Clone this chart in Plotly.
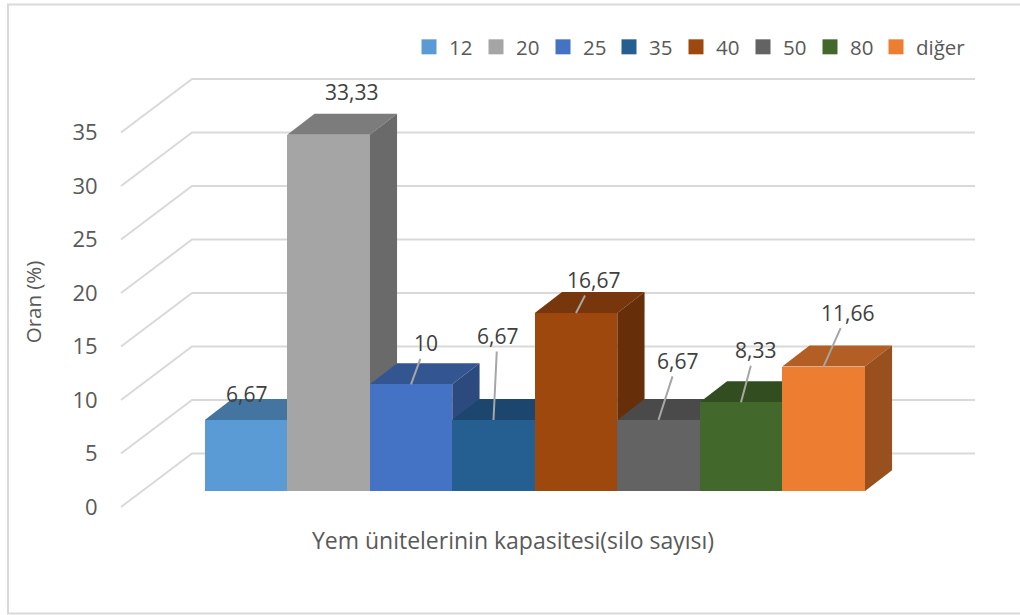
import plotly.graph_objects as go

# ---- data -------------------------------------------------------------
categories = ["12", "20", "25", "35", "40", "50", "80", "diğer"]
values = [6.67, 33.33, 10, 6.67, 16.67, 6.67, 8.33, 11.66]
y_ticks = [0, 5, 10, 15, 20, 25, 30, 35]

# ---- styles -----------------------------------------------------------
front_colors = ["#5B9BD5", "#A5A5A5", "#4472C4", "#255E91", "#9E480E", "#636363", "#43682B", "#ED7D31"]
top_colors = ["#4475A0", "#7C7C7C", "#335693", "#1C466D", "#77360B", "#4A4A4A", "#324E20", "#B25E25"]
side_colors = ["#3B6489", "#6A6A6A", "#2C4A7E", "#183D5E", "#662E09", "#404040", "#2B431C", "#98501F"]
label_dx = [0, 23, 15, 4, 17, 19, 14, 24]
label_dy = [-26, -41, -41, -84, -33, -59, -52, -54]
has_leader = [False, False, True, True, True, True, True, True]
legend_centers = [429, 496, 563, 629, 696, 763, 830, 896]

W, H = 1020, 615
L, R, T, B = 50, 976, 78, 526
BAR_PX = 82.5       # one category width
UNIT_PX = 10.7      # one value unit
X0_PX = 246.0       # centre of first category
FRONT_ZERO = 507.0  # value axis zero, front of the floor
BAR_ZERO = 491.3    # base of the bars
DEPTH_X = 27.3 / BAR_PX
DEPTH_Y = 21.0 / UNIT_PX
WALL_X_FRONT = (121 - X0_PX) / BAR_PX
WALL_X_BACK = (192 - X0_PX) / BAR_PX
WALL_X_END = (975 - X0_PX) / BAR_PX
WALL_RISE = 5.0
GRID = "#D9D9D9"
FONT = "Open Sans"
FONT_SIZE = 20.5
TEXT = "#595959"


def yrange(zero):
    return [(zero - B) / UNIT_PX, (zero - T) / UNIT_PX]


fig = go.Figure()

# Walls and floor grid
for v in y_ticks:
    fig.add_trace(go.Scatter(
        x=[WALL_X_FRONT, WALL_X_BACK, WALL_X_END],
        y=[v, v + WALL_RISE, v + WALL_RISE],
        mode="lines", line=dict(color=GRID, width=2),
        showlegend=False, hoverinfo="skip", cliponaxis=False,
        xaxis="x", yaxis="y"))

# Depth faces, left to right
for i, v in enumerate(values):
    l, r = i - 0.5, i + 0.5
    fig.add_trace(go.Scatter(
        x=[l, r, r + DEPTH_X, l + DEPTH_X, l],
        y=[v, v, v + DEPTH_Y, v + DEPTH_Y, v],
        mode="lines", fill="toself", fillcolor=top_colors[i],
        line=dict(width=0), showlegend=False, hoverinfo="skip",
        xaxis="x", yaxis="y2"))
    fig.add_trace(go.Scatter(
        x=[r, r + DEPTH_X, r + DEPTH_X, r, r],
        y=[0, DEPTH_Y, v + DEPTH_Y, v, 0],
        mode="lines", fill="toself", fillcolor=side_colors[i],
        line=dict(width=0), showlegend=False, hoverinfo="skip",
        xaxis="x", yaxis="y2"))

# Front faces
for i, (c, v) in enumerate(zip(categories, values)):
    fig.add_trace(go.Bar(
        x=[i], y=[v], width=1, name=c, marker=dict(color=front_colors[i], line=dict(width=0)),
        showlegend=False, xaxis="x", yaxis="y3"))

# Legend entries: one legend per entry, so each sits at its own place
legends = {}
for i, c in enumerate(categories):
    key = "legend" if i == 0 else f"legend{i + 1}"
    fig.add_trace(go.Scatter(
        x=[None], y=[None], name=c, mode="markers", legend=key,
        marker=dict(symbol="square", size=15, color=front_colors[i]),
        xaxis="x", yaxis="y"))
    legends[key] = dict(
        x=(legend_centers[i] - 20 - L) / (R - L), xanchor="left",
        y=(B - 47) / (B - T), yanchor="middle",
        font=dict(family=FONT, size=FONT_SIZE, color=TEXT), bgcolor="rgba(0,0,0,0)",
        itemclick=False, itemdoubleclick=False)

# Data labels with leader lines
annotations = []
for i, v in enumerate(values):
    annotations.append(dict(
        x=i, y=v, xref="x", yref="y3", text=f"{v:g}".replace(".", ","),
        showarrow=True, ax=label_dx[i], ay=label_dy[i] - (2 if i == 1 else 0), axref="pixel", ayref="pixel",
        arrowhead=0, arrowwidth=2,
        arrowcolor="#A6A6A6" if has_leader[i] else "rgba(0,0,0,0)",
        font=dict(family=FONT, size=21, color="#404040")))

fig.update_layout(
    width=W, height=H, autosize=False,
    paper_bgcolor="white", plot_bgcolor="white",
    margin=dict(l=L, r=W - R, t=T, b=H - B, pad=0),
    barmode="overlay", bargap=0,
    font=dict(family=FONT, size=FONT_SIZE, color=TEXT),
    annotations=annotations,
    xaxis=dict(
        range=[(L - X0_PX) / BAR_PX, (R - X0_PX) / BAR_PX],
        showgrid=False, zeroline=False, showline=False, showticklabels=False, ticks="",
        title=dict(text="Yem ünitelerinin kapasitesi(silo sayısı)", standoff=6,
                   font=dict(family=FONT, size=23, color=TEXT))),
    yaxis=dict(
        range=yrange(FRONT_ZERO), tickvals=y_ticks, ticktext=[str(t) for t in y_ticks],
        anchor="free", position=(110 - L) / (R - L),
        showgrid=False, zeroline=False, showline=False,
        ticks="outside", ticklen=8, tickcolor="rgba(0,0,0,0)",
        tickfont=dict(family=FONT, size=22, color=TEXT),
        title=dict(text="Oran (%)", standoff=24, font=dict(family=FONT, size=FONT_SIZE, color=TEXT))),
    yaxis2=dict(range=yrange(BAR_ZERO), overlaying="y", visible=False, anchor="x"),
    yaxis3=dict(range=yrange(BAR_ZERO), overlaying="y", visible=False, anchor="x"),
    shapes=[
        dict(type="path", xref="paper", yref="paper",
             path="M {x1},{y0} L {x0},{y0} L {x0},{y1} L {x1},{y1}".format(
                 x0=(8 - L) / (R - L), x1=(1020 - L) / (R - L),
                 y0=(B - 4.5) / (B - T), y1=(B - 613.5) / (B - T)),
             line=dict(color=GRID, width=2), layer="below"),
    ],
    **legends,
)

fig.write_html(
    "out.html",
    config={"displayModeBar": False},
    post_script="document.body.style.margin='0';document.documentElement.style.overflow='hidden';window.dispatchEvent(new Event('resize'));",
)
